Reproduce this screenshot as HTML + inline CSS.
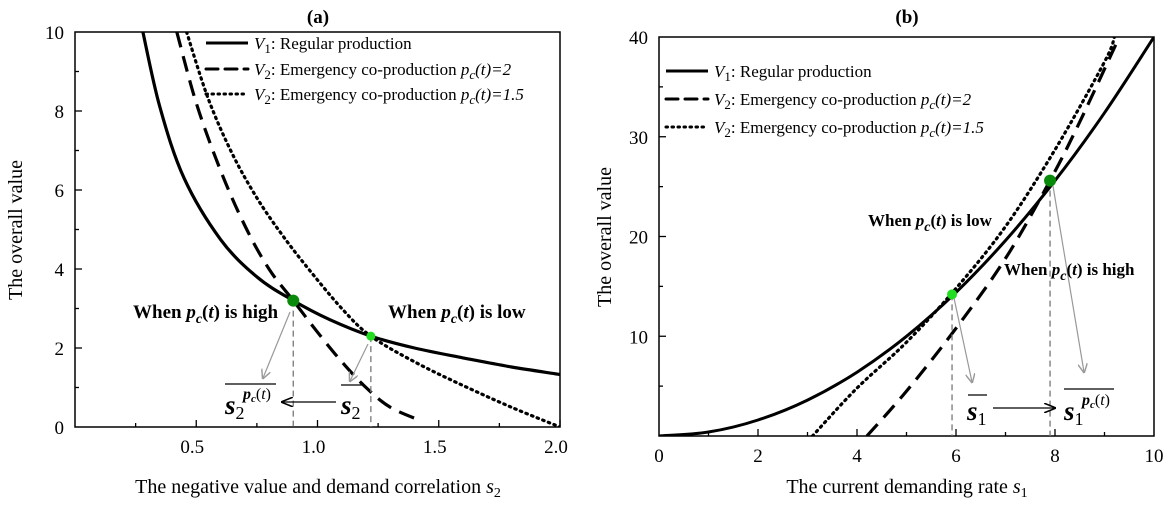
<!DOCTYPE html>
<html><head><meta charset="utf-8"><style>
body{margin:0;background:#fff;}
svg{font-family:"Liberation Serif",serif;}
</style></head><body>
<svg id="c" width="1169" height="501" viewBox="0 0 1169 501" xmlns="http://www.w3.org/2000/svg">
<defs><marker id="ag" markerWidth="8" markerHeight="8" refX="7" refY="4" orient="auto"><path d="M0,0 L8,4 L0,8" fill="none" stroke="#999" stroke-width="1.2"/></marker>
<marker id="ak" markerWidth="10" markerHeight="8" refX="9" refY="4" orient="auto"><path d="M0,0 L10,4 L0,8" fill="none" stroke="#000" stroke-width="1.3"/></marker></defs>
<g id="ga"></g><g id="gb"></g>
</svg>
<script>
// Panel (a)
const aV1S=[0.28,0.35,0.45,0.6,0.75,0.9,1.05,1.22,1.4,1.6,1.8,2.0];
const aV1=[10,8.1,6.3,4.75,3.8,3.2,2.72,2.3,2.0,1.75,1.52,1.33];
const aDashS=[0.42,0.5,0.6,0.7,0.8,0.9,1.0,1.1,1.2,1.3,1.43];
const aDash=[10,8.2,6.5,5.1,4.0,3.2,2.4,1.65,1.0,0.5,0.15];
const aDotS=[0.46,0.55,0.65,0.75,0.85,0.95,1.1,1.22,1.4,1.6,1.8,2.0];
const aDot=[10,8.3,6.9,5.8,4.9,4.1,3.0,2.3,1.65,1.05,0.5,0];
const aXTicks=["0.5","1.0","1.5","2.0"];
const aYTicks=["0","2","4","6","8","10"];
// Panel (b)
const bV1S=[0,1,2,3,4,5,6,7,8,9,10];
const bV1=[0,0.4,1.6,3.6,6.4,10,14.4,19.6,25.6,32.4,40];
const bDashS=[4.2,5,6,7,7.9,8.5,9.3];
const bDash=[0,4.5,10.8,17.8,25.6,31.5,40];
const bDotS=[3.1,4,5,6,7,8,9,9.2];
const bDot=[0,4.8,9.4,14.8,21,28.7,37.5,40];
const bXTicks=["0","2","4","6","8","10"];
const bYTicks=["10","20","30","40"];

const NS="http://www.w3.org/2000/svg";
function mk(p,t,a){const e=document.createElementNS(NS,t);for(const k in a)e.setAttribute(k,a[k]);p.appendChild(e);return e;}
function panel(g,x0,x1,y0,y1,xmin,xmax,ymin,ymax){
  const X=v=>x0+(v-xmin)/(xmax-xmin)*(x1-x0), Y=v=>y0-(v-ymin)/(ymax-ymin)*(y0-y1);
  return {X,Y};
}
function line(g,xs,ys,A,dash,w,name){
  const P=xs.map((v,i)=>[A.X(v),A.Y(ys[i])]);
  let d="M"+P[0][0].toFixed(1)+","+P[0][1].toFixed(1);
  for(let i=0;i<P.length-1;i++){
    const p0=P[Math.max(0,i-1)],p1=P[i],p2=P[i+1],p3=P[Math.min(P.length-1,i+2)];
    const c1=[p1[0]+(p2[0]-p0[0])/6,p1[1]+(p2[1]-p0[1])/6];
    const c2=[p2[0]-(p3[0]-p1[0])/6,p2[1]-(p3[1]-p1[1])/6];
    d+=" C"+c1.map(v=>v.toFixed(1)).join(",")+" "+c2.map(v=>v.toFixed(1)).join(",")+" "+p2.map(v=>v.toFixed(1)).join(",");
  }
  const p=mk(g,"path",{d,fill:"none",stroke:"#000","stroke-width":w});
  if(dash)p.setAttribute("stroke-dasharray",dash);
  if(dash==="1.5,4.5")p.setAttribute("stroke-linecap","round");
  
  
}
function txt(g,x,y,s,html,anchor,name,extra){
  const t=mk(g,"text",{x,y,"font-size":s,"text-anchor":anchor||"start"});t.innerHTML=html;
  if(extra)for(const k in extra)t.setAttribute(k,extra[k]);
  
  
  return t;
}
const pcB="<tspan font-weight='bold' font-style='italic'>p</tspan><tspan font-weight='bold' font-style='italic' font-size='14' dy='5'>c</tspan><tspan font-weight='bold' dy='-5'>(</tspan><tspan font-weight='bold' font-style='italic'>t</tspan><tspan font-weight='bold'>)</tspan>";
// ---- Panel a
const ga=document.getElementById("ga");
const A=panel(ga,75,560,427,32,0,2,0,10);
const ca=mk(ga,"clipPath",{id:"cpa"});mk(ca,"rect",{x:75,y:32,width:485,height:395});
const la=mk(ga,"g",{"clip-path":"url(#cpa)"});
line(la,aV1S,aV1,A,null,3.2,"a-v1-regular-line");
line(la,aDashS,aDash,A,"16,9",3.2,"a-v2-pc2-line");
line(la,aDotS,aDot,A,"1.5,4.5",3.2,"a-v2-pc15-line");
let r=mk(ga,"rect",{x:75,y:32,width:485,height:395,fill:"none",stroke:"#000","stroke-width":1.5});

for(let v=0.25;v<=2;v+=0.25){mk(ga,"line",{x1:A.X(v),x2:A.X(v),y1:427,y2:(v*4)%2==0?420:423,stroke:"#000","stroke-width":1.3});}
for(let v=1;v<=9;v++){mk(ga,"line",{x1:75,x2:v%2==0?82:79,y1:A.Y(v),y2:A.Y(v),stroke:"#000","stroke-width":1.3});}
aXTicks.forEach(s=>txt(ga,A.X(+s)-4,453,19,s,"middle","a-x-tick-"+s));
aYTicks.forEach(s=>txt(ga,64,A.Y(+s)+7,19,s,"end","a-y-tick-"+s));
txt(ga,318,23,19,"<tspan font-weight='bold'>(a)</tspan>","middle","a-title");
txt(ga,318,493,20,"The negative value and demand correlation <tspan font-style='italic'>s</tspan><tspan font-size='14' dy='4'>2</tspan>","middle","a-x-axis-title");
txt(ga,22,230,20,"The overall value","middle","a-y-axis-title",{transform:"rotate(-90 22 230)"});
[[null,"V<tspan font-size='13' dy='4'>1</tspan><tspan dy='-4'>: Regular production</tspan>",49],["12,7","V<tspan font-size='13' dy='4'>2</tspan><tspan dy='-4'>: Emergency co-production </tspan><tspan font-style='italic'>p</tspan><tspan font-style='italic' font-size='13' dy='4'>c</tspan><tspan font-style='italic' dy='-4'>(t)=2</tspan>",75],["1.5,4.5","V<tspan font-size='13' dy='4'>2</tspan><tspan dy='-4'>: Emergency co-production </tspan><tspan font-style='italic'>p</tspan><tspan font-style='italic' font-size='13' dy='4'>c</tspan><tspan font-style='italic' dy='-4'>(t)=1.5</tspan>",100]].forEach((L,i)=>{
  const l=mk(ga,"line",{x1:206,x2:248,y1:L[2]-6,y2:L[2]-6,stroke:"#000","stroke-width":3,"stroke-linecap":L[0]&&L[0][0]=="1"?"round":"butt"});
  if(L[0])l.setAttribute("stroke-dasharray",L[0]);
  
  txt(ga,254,L[2],17,"<tspan font-style='italic'>"+L[1].slice(0,1)+"</tspan>"+L[1].slice(1),"start","a-legend-entry-"+i);
});
const pH=[0.9,3.2],pL=[1.22,2.3];
mk(ga,"line",{x1:A.X(pH[0]),x2:A.X(pH[0]),y1:A.Y(pH[1]),y2:427,stroke:"#777","stroke-dasharray":"6,4","stroke-width":1.3});
mk(ga,"line",{x1:A.X(pL[0]),x2:A.X(pL[0]),y1:A.Y(pL[1]),y2:427,stroke:"#777","stroke-dasharray":"6,4","stroke-width":1.3});
mk(ga,"line",{x1:290,y1:312,x2:263,y2:378,stroke:"#999","stroke-width":1.2,"marker-end":"url(#ag)"});
mk(ga,"line",{x1:368,y1:344,x2:350,y2:381,stroke:"#999","stroke-width":1.2,"marker-end":"url(#ag)"});
mk(ga,"line",{x1:336,y1:402,x2:282,y2:402,stroke:"#000","stroke-width":1.2,"marker-end":"url(#ak)"});
let c1=mk(ga,"circle",{cx:A.X(pH[0]),cy:A.Y(pH[1]),r:6,fill:"#0a8a0a"});
let c2=mk(ga,"circle",{cx:A.X(pL[0]),cy:A.Y(pL[1]),r:4.5,fill:"#22dd22"});
txt(ga,133,318,19,"<tspan font-weight='bold'>When </tspan>"+pcB+"<tspan font-weight='bold'> is high</tspan>","start","a-label-high");
txt(ga,388,318,19,"<tspan font-weight='bold'>When </tspan>"+pcB+"<tspan font-weight='bold'> is low</tspan>","start","a-label-low");
mk(ga,"line",{x1:225,x2:276,y1:384,y2:384,stroke:"#000","stroke-width":1.2});
txt(ga,225,414,27,"<tspan font-weight='bold' font-style='italic'>s</tspan><tspan font-size='18' dy='5'>2</tspan>","start","a-s2-pc-label");
txt(ga,243,399,16,"<tspan font-weight='bold' font-style='italic'>p</tspan><tspan font-style='italic' font-weight='bold' font-size='11' dy='3'>c</tspan><tspan dy='-3'>(</tspan><tspan font-style='italic'>t</tspan>)","start","a-s2-pc-sup");
mk(ga,"line",{x1:341,x2:363,y1:385,y2:385,stroke:"#000","stroke-width":1.2});
txt(ga,341,414,27,"<tspan font-weight='bold' font-style='italic'>s</tspan><tspan font-size='18' dy='5'>2</tspan>","start","a-s2-label");

// ---- Panel b
const gb=document.getElementById("gb");
const B=panel(gb,659,1154,436,37,0,10,0,40);
const cb=mk(gb,"clipPath",{id:"cpb"});mk(cb,"rect",{x:659,y:37,width:495,height:399});
const lb=mk(gb,"g",{"clip-path":"url(#cpb)"});
line(lb,bV1S,bV1,B,null,3,"b-v1-regular-line");
line(lb,bDashS,bDash,B,"16,9",3.2,"b-v2-pc2-line");
line(lb,bDotS,bDot,B,"1.5,4.5",3.2,"b-v2-pc15-line");
r=mk(gb,"rect",{x:659,y:37,width:495,height:399,fill:"none",stroke:"#000","stroke-width":1.5});

for(let v=1;v<=9;v++){mk(gb,"line",{x1:B.X(v),x2:B.X(v),y1:436,y2:v%2==0?429:432,stroke:"#000","stroke-width":1.3});}
for(let v=5;v<=35;v+=5){mk(gb,"line",{x1:659,x2:v%10==0?666:663,y1:B.Y(v),y2:B.Y(v),stroke:"#000","stroke-width":1.3});}
bXTicks.forEach(s=>txt(gb,B.X(+s),462,19,s,"middle","b-x-tick-"+s));
bYTicks.forEach(s=>txt(gb,648,B.Y(+s)+7,19,s,"end","b-y-tick-"+s));
txt(gb,907,23,19,"<tspan font-weight='bold'>(b)</tspan>","middle","b-title");
txt(gb,907,493,20,"The current demanding rate <tspan font-style='italic'>s</tspan><tspan font-size='14' dy='4'>1</tspan>","middle","b-x-axis-title");
txt(gb,611,237,20,"The overall value","middle","b-y-axis-title",{transform:"rotate(-90 611 237)"});
[[null,"V<tspan font-size='13' dy='4'>1</tspan><tspan dy='-4'>: Regular production</tspan>",77],["12,7","V<tspan font-size='13' dy='4'>2</tspan><tspan dy='-4'>: Emergency co-production </tspan><tspan font-style='italic'>p</tspan><tspan font-style='italic' font-size='13' dy='4'>c</tspan><tspan font-style='italic' dy='-4'>(t)=2</tspan>",105],["1.5,4.5","V<tspan font-size='13' dy='4'>2</tspan><tspan dy='-4'>: Emergency co-production </tspan><tspan font-style='italic'>p</tspan><tspan font-style='italic' font-size='13' dy='4'>c</tspan><tspan font-style='italic' dy='-4'>(t)=1.5</tspan>",133]].forEach((L,i)=>{
  const l=mk(gb,"line",{x1:666,x2:708,y1:L[2]-6,y2:L[2]-6,stroke:"#000","stroke-width":3,"stroke-linecap":L[0]&&L[0][0]=="1"?"round":"butt"});
  if(L[0])l.setAttribute("stroke-dasharray",L[0]);
  
  txt(gb,714,L[2],17,"<tspan font-style='italic'>"+L[1].slice(0,1)+"</tspan>"+L[1].slice(1),"start","b-legend-entry-"+i);
});
const qL=[5.92,14.2],qH=[7.9,25.6];
mk(gb,"line",{x1:B.X(qL[0]),x2:B.X(qL[0]),y1:B.Y(qL[1]),y2:436,stroke:"#777","stroke-dasharray":"6,4","stroke-width":1.3});
mk(gb,"line",{x1:B.X(qH[0]),x2:B.X(qH[0]),y1:B.Y(qH[1]),y2:436,stroke:"#777","stroke-width":1.3,"stroke-dasharray":"6,4"});
mk(gb,"line",{x1:954,y1:298,x2:972,y2:382,stroke:"#999","stroke-width":1.2,"marker-end":"url(#ag)"});
mk(gb,"line",{x1:1053,y1:186,x2:1084,y2:372,stroke:"#999","stroke-width":1.2,"marker-end":"url(#ag)"});
mk(gb,"line",{x1:993,y1:408,x2:1055,y2:408,stroke:"#000","stroke-width":1.2,"marker-end":"url(#ak)"});
c1=mk(gb,"circle",{cx:B.X(qL[0]),cy:B.Y(qL[1]),r:5,fill:"#22dd22"});
c2=mk(gb,"circle",{cx:B.X(qH[0]),cy:B.Y(qH[1]),r:6,fill:"#0a8a0a"});
txt(gb,868,226,17,"<tspan font-weight='bold'>When </tspan>"+pcB+"<tspan font-weight='bold'> is low</tspan>","start","b-label-low");
txt(gb,1004,275,17,"<tspan font-weight='bold'>When </tspan>"+pcB+"<tspan font-weight='bold'> is high</tspan>","start","b-label-high");
mk(gb,"line",{x1:968,x2:987,y1:395,y2:395,stroke:"#000","stroke-width":1.2});
txt(gb,967,420,27,"<tspan font-weight='bold' font-style='italic'>s</tspan><tspan font-size='18' dy='5'>1</tspan>","start","b-s1-label");
mk(gb,"line",{x1:1064,x2:1114,y1:389,y2:389,stroke:"#000","stroke-width":1.2});
txt(gb,1064,420,27,"<tspan font-weight='bold' font-style='italic'>s</tspan><tspan font-size='18' dy='5'>1</tspan>","start","b-s1-pc-label");
txt(gb,1082,405,16,"<tspan font-weight='bold' font-style='italic'>p</tspan><tspan font-style='italic' font-weight='bold' font-size='11' dy='3'>c</tspan><tspan dy='-3'>(</tspan><tspan font-style='italic'>t</tspan>)","start","b-s1-pc-sup");
</script>
</body></html>
